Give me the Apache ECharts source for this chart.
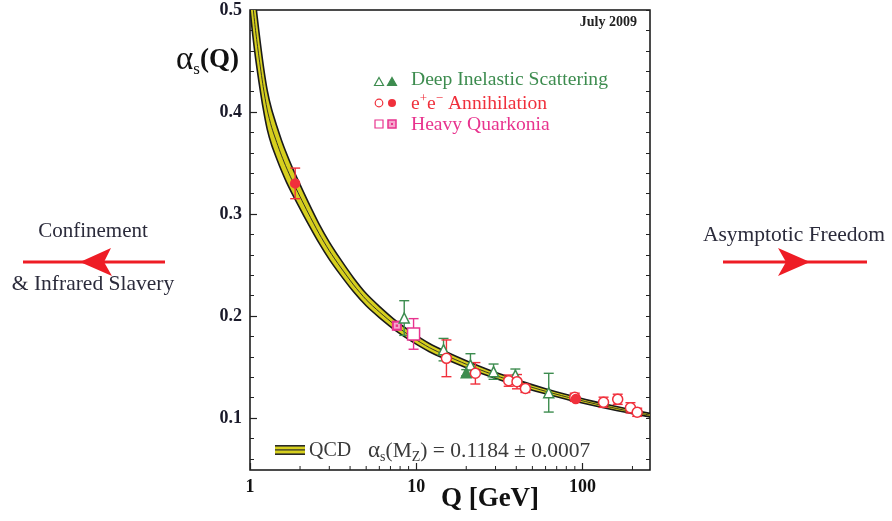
<!DOCTYPE html>
<html>
<head>
<meta charset="utf-8">
<script src="https://cdn.jsdelivr.net/npm/echarts@6/dist/echarts.min.js"></script>
<style>
  html, body { margin: 0; padding: 0; background: #fff; }
  #chart { width: 892px; height: 521px; }
</style>
</head>
<body>
<div id="chart"></div>
<script>
// Running coupling alpha_s(Q): central curve and half-width of the QCD band
const curveQ = [1.0, 1.04, 1.08, 1.13, 1.2, 1.27, 1.35, 1.45, 1.55, 1.66, 1.78, 2.0, 2.24, 2.6, 3.0, 3.5, 4.2, 5.0, 6.0, 7.6, 9.5, 12, 15, 20, 26, 34, 45, 60, 80, 91.2, 120, 160, 200, 255];
const curveAlpha = [0.535, 0.505, 0.480, 0.455, 0.425, 0.402, 0.385, 0.370, 0.357, 0.345, 0.334, 0.317, 0.301, 0.281, 0.264, 0.248, 0.2305, 0.216, 0.204, 0.190, 0.179, 0.169, 0.1615, 0.1527, 0.1454, 0.1387, 0.1322, 0.1262, 0.1207, 0.1184, 0.1138, 0.1093, 0.1061, 0.1028];
const curveErr = [0.034, 0.030, 0.027, 0.0244, 0.0213, 0.019, 0.0174, 0.016, 0.0149, 0.014, 0.013, 0.0118, 0.0107, 0.0094, 0.0085, 0.0077, 0.0068, 0.006, 0.0055, 0.0049, 0.0044, 0.004, 0.0037, 0.0034, 0.0031, 0.0029, 0.0027, 0.0025, 0.0023, 0.0022, 0.0020, 0.0019, 0.0018, 0.0017];

// Measurements: [Q in GeV, alpha_s, uncertainty]
const disOpen = [[8.47, 0.198, 0.017], [14.6, 0.167, 0.011], [21.2, 0.152, 0.011], [29.2, 0.1454, 0.0075], [39.5, 0.142, 0.006], [62.7, 0.1248, 0.019]];
const disFilled = [[20.0, 0.1444, 0.003]];
const eeOpen = [[15.2, 0.1585, 0.018], [22.7, 0.1438, 0.0105], [36.0, 0.1366, 0.0055], [40.4, 0.1356, 0.007], [45.4, 0.129, 0.004], [89.9, 0.1203, 0.004], [134, 0.1154, 0.005], [163, 0.1183, 0.005], [194.5, 0.110, 0.005], [213.6, 0.1056, 0.004]];
const eeFilled = [[1.87, 0.330, 0.015], [91.2, 0.1185, 0.002]];
const hqOpen = [[9.64, 0.1824, 0.015]];
const hqFilled = [[7.65, 0.1905, 0.004]];

// Axis ticks
const xMinorTicks = [2, 3, 4, 5, 6, 7, 8, 9, 20, 30, 40, 50, 60, 70, 80, 90, 200];
const yMajorTicks = [0.1, 0.2, 0.3, 0.4, 0.5];
const yMinorTicks = [0.06, 0.08, 0.12, 0.14, 0.16, 0.18, 0.22, 0.24, 0.26, 0.28, 0.32, 0.34, 0.36, 0.38, 0.42, 0.44, 0.46, 0.48];

const Y_MIN = 0.049, Y_MAX = 0.5, X_MIN = 1, X_MAX = 255;

const GREEN = '#3d8c4f', RED = '#f0303c', PINK = '#e8338e';
const BAND_YELLOW = '#d6cf1e';
const SERIF = '"Liberation Serif", "Times New Roman", serif';
const SMOOTH = 0.25;

// QCD band: one custom item draws the filled region, its edges and the central line
const bandSeries = {
  type: 'custom', clip: true, z: 2,
  data: curveQ.map((q, i) => [q, curveAlpha[i], curveErr[i]]),
  encode: { x: 0, y: 1 },
  renderItem: function (params, api) {
    if (params.dataIndex !== 0) return null;
    const hi = curveQ.map((q, i) => api.coord([q, curveAlpha[i] + curveErr[i]]));
    const lo = curveQ.map((q, i) => api.coord([q, curveAlpha[i] - curveErr[i]]));
    const mid = curveQ.map((q, i) => api.coord([q, curveAlpha[i]]));
    const outline = hi.concat(lo.slice().reverse());
    const edge = { stroke: '#1a1a1a', lineWidth: 1.6, fill: null };
    return {
      type: 'group', children: [
        { type: 'polygon', shape: { points: outline, smooth: SMOOTH }, style: { fill: BAND_YELLOW } },
        { type: 'polyline', shape: { points: hi, smooth: SMOOTH }, style: edge },
        { type: 'polyline', shape: { points: lo, smooth: SMOOTH }, style: edge },
        { type: 'polyline', shape: { points: mid, smooth: SMOOTH }, style: { stroke: '#3a3a20', lineWidth: 1, fill: null } }
      ]
    };
  }
};

function errorBars(data, color) {
  return {
    type: 'custom', data: data, clip: true, z: 5,
    encode: { x: 0, y: 1 },
    renderItem: function (params, api) {
      const q = api.value(0), a = api.value(1), e = api.value(2);
      const t = api.coord([q, a + e]);
      const b = api.coord([q, a - e]);
      const cw = 5;
      const st = { stroke: color, lineWidth: 1.4 };
      return {
        type: 'group', children: [
          { type: 'line', shape: { x1: t[0], y1: t[1], x2: b[0], y2: b[1] }, style: st },
          { type: 'line', shape: { x1: t[0] - cw, y1: t[1], x2: t[0] + cw, y2: t[1] }, style: st },
          { type: 'line', shape: { x1: b[0] - cw, y1: b[1], x2: b[0] + cw, y2: b[1] }, style: st }
        ]
      };
    }
  };
}

function markers(data, symbol, size, color, filled) {
  return {
    type: 'scatter', data: data.map(d => [d[0], d[1]]), symbol: symbol, symbolSize: size, z: 6,
    itemStyle: { color: filled ? color : '#fff', borderColor: color, borderWidth: 1.5, opacity: 1 },
    emphasis: { disabled: true }
  };
}

const series = [
  bandSeries,
  // minor ticks on the log Q axis (bottom edge)
  {
    type: 'custom', data: xMinorTicks.map(q => [q, Y_MIN]), z: 4, clip: false,
    encode: { x: 0, y: 1 },
    renderItem: function (params, api) {
      const p = api.coord([api.value(0), Y_MIN]);
      return { type: 'line', shape: { x1: p[0], y1: p[1], x2: p[0], y2: p[1] - 4 }, style: { stroke: '#222', lineWidth: 1 } };
    }
  },
  errorBars(disOpen, GREEN), errorBars(disFilled, GREEN),
  errorBars(eeOpen, RED), errorBars(eeFilled, RED),
  errorBars(hqOpen, PINK), errorBars(hqFilled, PINK),
  markers(disOpen, 'triangle', 10, GREEN, false),
  markers(disFilled, 'triangle', 10, GREEN, true),
  markers(eeOpen, 'circle', 10, RED, false),
  markers(eeFilled, 'circle', 9, RED, true),
  markers(hqOpen, 'rect', 12, PINK, false),
  {
    type: 'custom', data: hqFilled.map(d => [d[0], d[1]]), z: 6, encode: { x: 0, y: 1 },
    renderItem: function (params, api) {
      const p = api.coord([api.value(0), api.value(1)]);
      return {
        type: 'group', children: [
          { type: 'rect', shape: { x: p[0] - 5, y: p[1] - 5, width: 10, height: 10 }, style: { fill: PINK } },
          { type: 'rect', shape: { x: p[0] - 3, y: p[1] - 3, width: 6, height: 6 }, style: { fill: '#f6a6cc' } },
          { type: 'rect', shape: { x: p[0] - 1.2, y: p[1] - 1.2, width: 2.4, height: 2.4 }, style: { fill: PINK } }
        ]
      };
    }
  }
];

// Legend glyphs and annotations
function tri(cx, cy, filled, color) {
  return { type: 'polygon', z: 100, shape: { points: [[cx, cy - 4.5], [cx + 4.5, cy + 3.5], [cx - 4.5, cy + 3.5]] },
    style: { fill: filled ? color : '#fff', stroke: color, lineWidth: 1.2 } };
}
const legendText = (text, y, color) => ({
  type: 'text', z: 100, x: 411, y: y,
  style: { text: text, font: '19.6px ' + SERIF, fill: color, verticalAlign: 'middle' }
});

const graphics = [
  // measurement legend
  tri(379, 82, false, GREEN), tri(392, 82, true, GREEN),
  { type: 'circle', z: 100, shape: { cx: 379, cy: 103, r: 3.8 }, style: { fill: '#fff', stroke: RED, lineWidth: 1.2 } },
  { type: 'circle', z: 100, shape: { cx: 392, cy: 103, r: 4 }, style: { fill: RED } },
  { type: 'rect', z: 100, shape: { x: 375, y: 120, width: 8, height: 8 }, style: { fill: '#fff', stroke: PINK, lineWidth: 1.2 } },
  { type: 'rect', z: 100, shape: { x: 388, y: 120, width: 8, height: 8 }, style: { fill: '#f6a6cc', stroke: PINK, lineWidth: 1.5 } },
  { type: 'rect', z: 101, shape: { x: 391, y: 123, width: 2, height: 2 }, style: { fill: PINK } },
  legendText('Deep Inelastic Scattering', 80, GREEN),
  {
    type: 'text', z: 100, x: 411, y: 103,
    style: {
      text: '{n|e}{p|+}{n|e}{p|\u2212}{n| Annihilation}', fill: RED, verticalAlign: 'middle',
      rich: {
        n: { font: '19.6px ' + SERIF, fill: RED, lineHeight: 22, verticalAlign: 'bottom' },
        p: { font: '13px ' + SERIF, fill: RED, lineHeight: 22, verticalAlign: 'top' }
      }
    }
  },
  legendText('Heavy Quarkonia', 125, PINK),

  // QCD band legend
  { type: 'rect', z: 100, shape: { x: 275, y: 445, width: 30, height: 10 }, style: { fill: BAND_YELLOW } },
  { type: 'rect', z: 101, shape: { x: 275, y: 445, width: 30, height: 1.6 }, style: { fill: '#2a2a2a' } },
  { type: 'rect', z: 101, shape: { x: 275, y: 449.3, width: 30, height: 1.2 }, style: { fill: '#2a2a2a' } },
  { type: 'rect', z: 101, shape: { x: 275, y: 453.4, width: 30, height: 1.6 }, style: { fill: '#2a2a2a' } },
  { type: 'text', z: 100, x: 309, y: 451, style: { text: 'QCD', font: '20px ' + SERIF, fill: '#3a3a3a', verticalAlign: 'middle' } },
  {
    type: 'text', z: 100, x: 368, y: 451,
    style: {
      text: '{a|\u03b1}{s|s}{n|(M}{s|Z}{n|) = 0.1184 \u00b1 0.0007}', verticalAlign: 'middle',
      rich: {
        n: { font: '21.5px ' + SERIF, fill: '#3a3a3a', lineHeight: 26, verticalAlign: 'middle' },
        a: { font: '23px ' + SERIF, fill: '#3a3a3a', lineHeight: 26, verticalAlign: 'middle' },
        s: { font: '14px ' + SERIF, fill: '#3a3a3a', lineHeight: 26, verticalAlign: 'bottom' }
      }
    }
  },

  // date stamp
  { type: 'text', z: 100, x: 637, y: 22, style: { text: 'July 2009', font: 'bold 14px ' + SERIF, fill: '#222', align: 'right', verticalAlign: 'middle' } },

  // axis titles
  {
    type: 'text', z: 100, x: 176, y: 60,
    style: {
      text: '{a|\u03b1}{s|s}{b|(Q)}', verticalAlign: 'middle',
      rich: {
        a: { font: '33px ' + SERIF, fill: '#111', lineHeight: 36, verticalAlign: 'middle' },
        s: { font: '17px ' + SERIF, fill: '#111', lineHeight: 36, verticalAlign: 'bottom' },
        b: { font: 'bold 27px ' + SERIF, fill: '#111', lineHeight: 36, verticalAlign: 'middle' }
      }
    }
  },
  { type: 'text', z: 100, x: 490, y: 499, style: { text: 'Q [GeV]', font: 'bold 27px ' + SERIF, fill: '#111', align: 'center', verticalAlign: 'middle' } },

  // regime annotations with arrows
  { type: 'text', z: 100, x: 93, y: 231, style: { text: 'Confinement', font: '21px ' + SERIF, fill: '#2b2b3b', align: 'center', verticalAlign: 'middle' } },
  { type: 'text', z: 100, x: 93, y: 284, style: { text: '& Infrared Slavery', font: '21.5px ' + SERIF, fill: '#2b2b3b', align: 'center', verticalAlign: 'middle' } },
  { type: 'line', z: 100, shape: { x1: 23, y1: 262, x2: 165, y2: 262 }, style: { stroke: '#ee1c25', lineWidth: 3.2 } },
  { type: 'polygon', z: 100, shape: { points: [[80, 262], [111, 248], [104, 262], [112, 276]] }, style: { fill: '#ee1c25' } },
  { type: 'text', z: 100, x: 794, y: 235, style: { text: 'Asymptotic Freedom', font: '21.5px ' + SERIF, fill: '#2b2b3b', align: 'center', verticalAlign: 'middle' } },
  { type: 'line', z: 100, shape: { x1: 723, y1: 262, x2: 867, y2: 262 }, style: { stroke: '#ee1c25', lineWidth: 3.2 } },
  { type: 'polygon', z: 100, shape: { points: [[810, 262], [778, 248], [786, 262], [778, 276]] }, style: { fill: '#ee1c25' } }
];

const tickColor = '#222';
const chart = echarts.init(document.getElementById('chart'), null, { renderer: 'canvas' });
chart.setOption({
  animation: false,
  backgroundColor: '#fff',
  grid: { left: 250, right: 242, top: 10, bottom: 51, show: true, borderColor: '#111', borderWidth: 1.5, backgroundColor: 'transparent' },
  xAxis: {
    type: 'log', logBase: 10, min: X_MIN, max: X_MAX, position: 'bottom',
    axisLine: { show: false }, splitLine: { show: false },
    axisTick: { show: true, inside: true, length: 7, lineStyle: { color: tickColor, width: 1.2 } },
    axisLabel: { margin: 8, fontFamily: SERIF, fontWeight: 'bold', fontSize: 18, color: '#111', showMaxLabel: false }
  },
  yAxis: [
    {
      type: 'value', min: Y_MIN, max: Y_MAX, position: 'left',
      axisLine: { show: false }, splitLine: { show: false },
      axisTick: { show: true, inside: true, length: 7, customValues: yMajorTicks, lineStyle: { color: tickColor, width: 1.2 } },
      axisLabel: { customValues: yMajorTicks, margin: 8, fontFamily: SERIF, fontWeight: 'bold', fontSize: 18, color: '#1a1a2a',
        formatter: v => v.toFixed(1) }
    },
    {
      type: 'value', min: Y_MIN, max: Y_MAX, position: 'left',
      axisLine: { show: false }, splitLine: { show: false },
      axisTick: { show: true, inside: true, length: 4, customValues: yMinorTicks, lineStyle: { color: tickColor, width: 1 } },
      axisLabel: { show: false }
    },
    {
      type: 'value', min: Y_MIN, max: Y_MAX, position: 'right',
      axisLine: { show: false }, splitLine: { show: false },
      axisTick: { show: true, inside: true, length: 4, customValues: yMinorTicks.concat(yMajorTicks), lineStyle: { color: tickColor, width: 1 } },
      axisLabel: { show: false }
    }
  ],
  series: series,
  graphic: graphics
});
</script>
</body>
</html>
